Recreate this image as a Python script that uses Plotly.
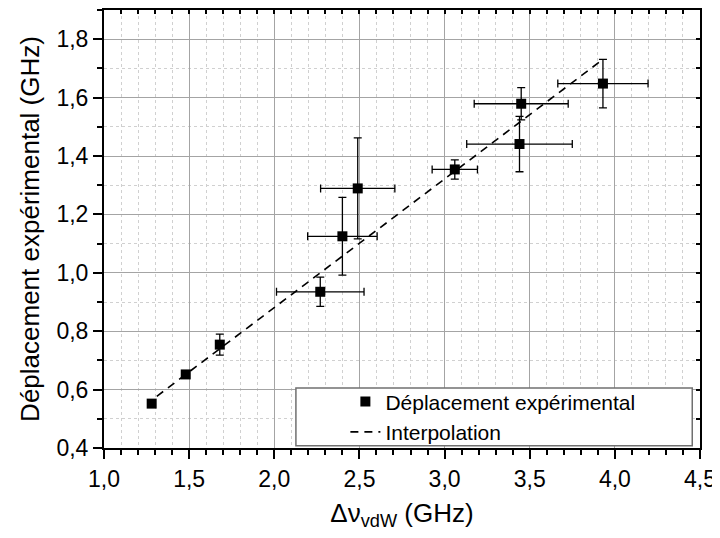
import plotly.graph_objects as go

x_exp = [1.28, 1.48, 1.68, 2.27, 2.40, 2.49, 3.06, 3.44, 3.45, 3.93]
y_exp = [0.552, 0.652, 0.754, 0.935, 1.125, 1.289, 1.354, 1.441, 1.579, 1.648]
x_err = [0.015, 0.015, 0.0, 0.257, 0.204, 0.218, 0.133, 0.31, 0.276, 0.265]
y_err = [0.01, 0.01, 0.036, 0.05, 0.133, 0.173, 0.033, 0.095, 0.055, 0.083]

# droite d'interpolation
x_fit = [1.31, 3.93]
y_fit = [0.577, 1.731]

font_fam = "Liberation Sans, Arial, sans-serif"

fig = go.Figure()

fig.add_trace(go.Scatter(
    x=x_fit, y=y_fit, mode="lines", name="Interpolation",
    line=dict(color="black", width=1.6, dash="8px,6px"),
))

fig.add_trace(go.Scatter(
    x=x_exp, y=y_exp, mode="markers", name="Déplacement expérimental",
    marker=dict(symbol="square", size=10, color="black"),
    error_x=dict(type="data", array=x_err, color="black", thickness=1.3, width=4),
    error_y=dict(type="data", array=y_err, color="black", thickness=1.3, width=4),
))

# trace vide pour les axes du haut / de droite
fig.add_trace(go.Scatter(x=[None], y=[None], xaxis="x2", yaxis="y2",
                         showlegend=False, hoverinfo="skip"))

# la page ajoute une marge de 8 px autour de la figure -> figure 712x530
fig.update_layout(
    width=712, height=530,
    margin=dict(l=96, r=20, t=2, b=90),
    plot_bgcolor="white", paper_bgcolor="white",
    separators=",.",
    font=dict(family=font_fam, color="black"),
    legend=dict(
        x=0.405, y=0.152, xanchor="left", yanchor="top",
        bgcolor="rgba(0,0,0,0)", borderwidth=0,
        font=dict(size=21, family=font_fam), traceorder="reversed",
    ),
    xaxis=dict(
        range=[1.0, 4.5], dtick=0.5, tickformat=".1f",
        showline=True, linecolor="black", linewidth=2, mirror=True,
        ticks="outside", ticklen=9, tickwidth=1.5, tickcolor="black",
        tickfont=dict(size=23),
        showgrid=True, gridcolor="#a4a4a4", gridwidth=1, zeroline=False,
        minor=dict(dtick=0.1, ticks="outside", ticklen=5, tickwidth=1.5,
                   tickcolor="black", showgrid=True, gridcolor="#d0d0d0",
                   griddash="dot", gridwidth=1),
        title=dict(text="Δν<sub>vdW</sub> (GHz)", font=dict(size=26), standoff=13),
        automargin=False,
    ),
    yaxis=dict(
        range=[0.4, 1.9], dtick=0.2, tick0=0.4, tickformat=".1f",
        showline=True, linecolor="black", linewidth=2, mirror=True,
        ticks="outside", ticklen=9, tickwidth=1.5, tickcolor="black",
        tickfont=dict(size=23),
        showgrid=True, gridcolor="#a4a4a4", gridwidth=1, zeroline=False,
        minor=dict(dtick=0.1, ticks="outside", ticklen=5, tickwidth=1.5,
                   tickcolor="black", showgrid=True, gridcolor="#d0d0d0",
                   griddash="dot", gridwidth=1),
        title=dict(text="Déplacement expérimental (GHz)", font=dict(size=26), standoff=9),
        automargin=False,
    ),
    xaxis2=dict(
        overlaying="x", side="top", range=[1.0, 4.5], dtick=0.5,
        showticklabels=False, showgrid=False, zeroline=False, showline=False,
        ticks="inside", ticklen=4, tickwidth=1.5, tickcolor="black",
        minor=dict(dtick=0.1, ticks="inside", ticklen=4, tickwidth=1.5, tickcolor="black"),
    ),
    yaxis2=dict(
        overlaying="y", side="right", range=[0.4, 1.9], dtick=0.2, tick0=0.4,
        showticklabels=False, showgrid=False, zeroline=False, showline=False,
        ticks="inside", ticklen=4, tickwidth=1.5, tickcolor="black",
        minor=dict(dtick=0.1, ticks="inside", ticklen=4, tickwidth=1.5, tickcolor="black"),
    ),
    shapes=[dict(
        type="rect", xref="paper", yref="paper",
        x0=0.322, x1=0.987, y0=0.005, y1=0.137,
        fillcolor="white", line=dict(color="#707070", width=1.5), layer="above",
    )],
)

fig.write_html("out.html")
